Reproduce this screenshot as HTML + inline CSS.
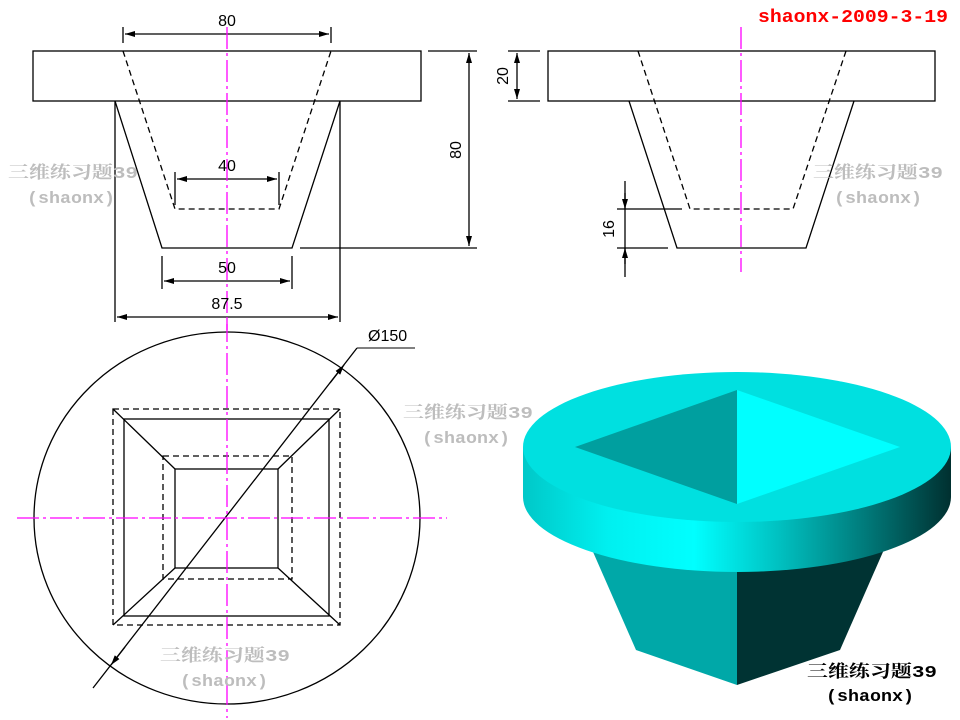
<!DOCTYPE html>
<html><head><meta charset="utf-8"><style>
html,body{margin:0;padding:0;background:#fff}
svg{display:block}
.wm{font-family:"Liberation Mono","Noto Serif CJK SC",monospace;font-weight:bold;fill:#bdbdbd;font-size:17px}
.dim{font-family:"Liberation Sans",sans-serif;font-size:16px;fill:#000}
</style></head><body>
<svg width="960" height="720" viewBox="0 0 960 720" xmlns="http://www.w3.org/2000/svg">
<defs>
<marker id="a" viewBox="0 0 10 6" refX="10" refY="3" markerWidth="10" markerHeight="6" orient="auto-start-reverse" markerUnits="userSpaceOnUse"><path d="M0,0L10,3L0,6z" fill="#000"/></marker>
<linearGradient id="cyl" x1="0" x2="1" y1="0" y2="0">
<stop offset="0" stop-color="#00c8c8"/><stop offset="0.2" stop-color="#00f0f0"/><stop offset="0.4" stop-color="#00ffff"/><stop offset="0.6" stop-color="#00c0c0"/><stop offset="0.8" stop-color="#007a7a"/><stop offset="1" stop-color="#003030"/>
</linearGradient>
</defs>
<g stroke="#000" stroke-width="1.3" fill="none">
<rect x="33" y="51" width="388" height="50"/>
<polyline points="115,101 162,248 292,248 340,101"/>
<polyline points="123,51 175,209 279,209 331,51" stroke-dasharray="6,4"/>
<line x1="115" y1="101" x2="115" y2="322"/><line x1="340" y1="101" x2="340" y2="322"/>
<line x1="117" y1="317" x2="338" y2="317" marker-start="url(#a)" marker-end="url(#a)"/>
<line x1="162" y1="256" x2="162" y2="289"/><line x1="292" y1="256" x2="292" y2="289"/>
<line x1="164" y1="281" x2="290" y2="281" marker-start="url(#a)" marker-end="url(#a)"/>
<line x1="175" y1="172" x2="175" y2="205"/><line x1="279" y1="172" x2="279" y2="205"/>
<line x1="177" y1="179" x2="277" y2="179" marker-start="url(#a)" marker-end="url(#a)"/>
<line x1="123" y1="27" x2="123" y2="43"/><line x1="331" y1="27" x2="331" y2="43"/>
<line x1="125" y1="34" x2="329" y2="34" marker-start="url(#a)" marker-end="url(#a)"/>
<line x1="428" y1="51" x2="477" y2="51"/><line x1="300" y1="248" x2="477" y2="248"/>
<line x1="469" y1="53" x2="469" y2="246" marker-start="url(#a)" marker-end="url(#a)"/>
<rect x="548" y="51" width="387" height="50"/>
<polyline points="629,101 677,248 806,248 854,101"/>
<polyline points="638,51 690,209 793,209 846,51" stroke-dasharray="6,4"/>
<line x1="508" y1="51" x2="540" y2="51"/><line x1="508" y1="101" x2="540" y2="101"/>
<line x1="517" y1="53" x2="517" y2="99" marker-start="url(#a)" marker-end="url(#a)"/>
<line x1="617" y1="209" x2="682" y2="209"/><line x1="617" y1="248" x2="668" y2="248"/>
<line x1="625" y1="181" x2="625" y2="277"/>
<line x1="625" y1="193" x2="625" y2="209" marker-end="url(#a)"/>
<line x1="625" y1="264" x2="625" y2="248" marker-end="url(#a)"/>
<ellipse cx="227" cy="518" rx="193" ry="186"/>
<rect x="113" y="409" width="227" height="216" stroke-dasharray="6,4"/>
<rect x="124" y="419" width="205" height="197"/>
<rect x="163" y="456" width="129" height="123" stroke-dasharray="6,4"/>
<rect x="175" y="469" width="103" height="99"/>
<line x1="113" y1="409" x2="175" y2="469"/><line x1="340" y1="409" x2="278" y2="469"/>
<line x1="113" y1="625" x2="175" y2="568"/><line x1="340" y1="625" x2="278" y2="568"/>
<line x1="93" y1="688" x2="357" y2="348"/>
<line x1="357" y1="348" x2="415" y2="348" stroke-width="1"/>
<line x1="330" y1="383" x2="344" y2="365" marker-end="url(#a)"/>
<line x1="125" y1="647" x2="111" y2="665" marker-end="url(#a)"/>
</g>
<g stroke="#ff00ff" stroke-width="1.3" stroke-dasharray="22,4,3,4" fill="none">
<line x1="227" y1="27" x2="227" y2="330"/>
<line x1="741" y1="27" x2="741" y2="272"/>
<line x1="227" y1="320" x2="227" y2="718"/>
<line x1="17" y1="518" x2="447" y2="518"/>
</g>
<text class="dim" x="227" y="26" text-anchor="middle">80</text>
<text class="dim" x="227" y="171" text-anchor="middle">40</text>
<text class="dim" x="227" y="273" text-anchor="middle">50</text>
<text class="dim" x="227" y="309" text-anchor="middle">87.5</text>
<text class="dim" transform="translate(461,150) rotate(-90)" text-anchor="middle">80</text>
<text class="dim" transform="translate(508,76) rotate(-90)" text-anchor="middle">20</text>
<text class="dim" transform="translate(614,229) rotate(-90)" text-anchor="middle">16</text>
<text class="dim" x="368" y="341">Ø150</text>
<text x="758" y="22" textLength="190" lengthAdjust="spacingAndGlyphs" font-family="Liberation Mono,monospace" font-weight="bold" font-size="18" fill="#ff0000">shaonx-2009-3-19</text>
<path d="M590,545 L636,650 L737,685 L737,560 Z" fill="#00a8a8"/>
<path d="M737,560 L737,685 L840,650 L886,545 Z" fill="#003333"/>
<path d="M523,447 L523,497 A214,75 0 0 0 951,497 L951,447 Z" fill="url(#cyl)"/>
<ellipse cx="737" cy="447" rx="214" ry="75" fill="#00e0e0"/>
<path d="M737,390 L575,447 L737,504 Z" fill="#009f9f"/>
<path d="M737,390 L900,447 L737,504 Z" fill="#00ffff"/>
<text class="wm" x="8" y="178" textLength="130" lengthAdjust="spacingAndGlyphs">三维练习题39</text><text class="wm" x="27" y="203" textLength="88" lengthAdjust="spacingAndGlyphs">(shaonx)</text>
<text class="wm" x="813" y="178" textLength="130" lengthAdjust="spacingAndGlyphs">三维练习题39</text><text class="wm" x="834" y="203" textLength="88" lengthAdjust="spacingAndGlyphs">(shaonx)</text>
<text class="wm" x="403" y="418" textLength="130" lengthAdjust="spacingAndGlyphs">三维练习题39</text><text class="wm" x="422" y="443" textLength="88" lengthAdjust="spacingAndGlyphs">(shaonx)</text>
<text class="wm" x="160" y="661" textLength="130" lengthAdjust="spacingAndGlyphs">三维练习题39</text><text class="wm" x="180" y="686" textLength="88" lengthAdjust="spacingAndGlyphs">(shaonx)</text>
<text x="807" y="677" textLength="130" lengthAdjust="spacingAndGlyphs" font-family="Liberation Mono,Noto Serif CJK SC,monospace" font-weight="bold" font-size="17" fill="#000">三维练习题39</text>
<text x="826" y="701" textLength="88" lengthAdjust="spacingAndGlyphs" font-family="Liberation Mono,monospace" font-weight="bold" font-size="17" fill="#000">(shaonx)</text>
</svg>
</body></html>
